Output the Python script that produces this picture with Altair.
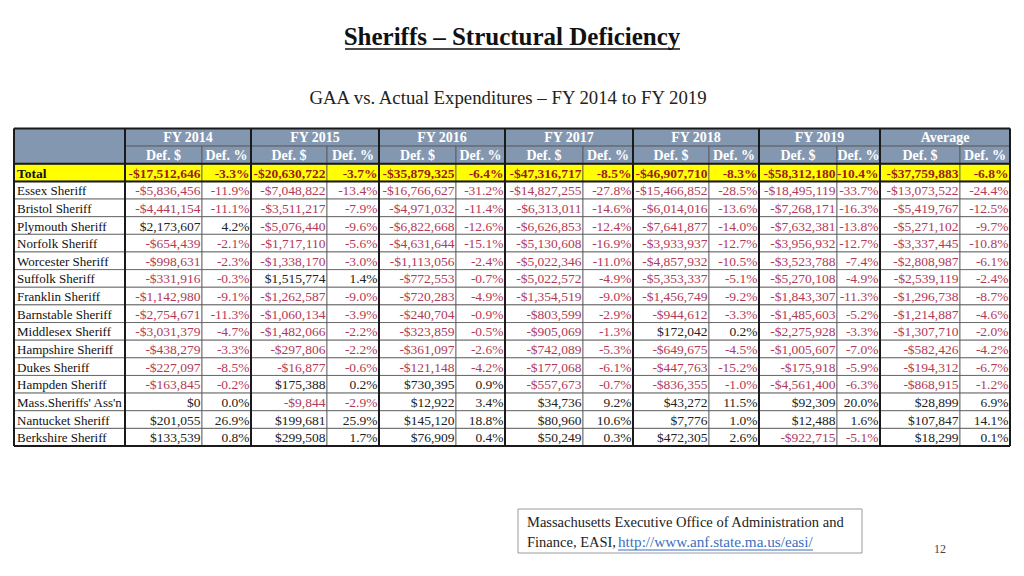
import altair as alt
import pandas as pd

# ---------------- data ----------------
names = ["Total", "Essex Sheriff", "Bristol Sheriff", "Plymouth Sheriff", "Norfolk Sheriff",
         "Worcester Sheriff", "Suffolk Sheriff", "Franklin Sheriff", "Barnstable Sheriff",
         "Middlesex Sheriff", "Hampshire Sheriff", "Dukes Sheriff", "Hampden Sheriff",
         "Mass.Sheriffs' Ass'n", "Nantucket Sheriff", "Berkshire Sheriff"]
groups = ["FY 2014", "FY 2015", "FY 2016", "FY 2017", "FY 2018", "FY 2019", "Average"]
sub_headers = ["Def. $", "Def. %"]

d2014 = [-17512646, -5836456, -4441154, 2173607, -654439, -998631, -331916, -1142980,
         -2754671, -3031379, -438279, -227097, -163845, 0, 201055, 133539]
p2014 = [-3.3, -11.9, -11.1, 4.2, -2.1, -2.3, -0.3, -9.1, -11.3, -4.7, -3.3, -8.5, -0.2, 0.0, 26.9, 0.8]
d2015 = [-20630722, -7048822, -3511217, -5076440, -1717110, -1338170, 1515774, -1262587,
         -1060134, -1482066, -297806, -16877, 175388, -9844, 199681, 299508]
p2015 = [-3.7, -13.4, -7.9, -9.6, -5.6, -3.0, 1.4, -9.0, -3.9, -2.2, -2.2, -0.6, 0.2, -2.9, 25.9, 1.7]
d2016 = [-35879325, -16766627, -4971032, -6822668, -4631644, -1113056, -772553, -720283,
         -240704, -323859, -361097, -121148, 730395, 12922, 145120, 76909]
p2016 = [-6.4, -31.2, -11.4, -12.6, -15.1, -2.4, -0.7, -4.9, -0.9, -0.5, -2.6, -4.2, 0.9, 3.4, 18.8, 0.4]
d2017 = [-47316717, -14827255, -6313011, -6626853, -5130608, -5022346, -5022572, -1354519,
         -803599, -905069, -742089, -177068, -557673, 34736, 80960, 50249]
p2017 = [-8.5, -27.8, -14.6, -12.4, -16.9, -11.0, -4.9, -9.0, -2.9, -1.3, -5.3, -6.1, -0.7, 9.2, 10.6, 0.3]
d2018 = [-46907710, -15466852, -6014016, -7641877, -3933937, -4857932, -5353337, -1456749,
         -944612, 172042, -649675, -447763, -836355, 43272, 7776, 472305]
p2018 = [-8.3, -28.5, -13.6, -14.0, -12.7, -10.5, -5.1, -9.2, -3.3, 0.2, -4.5, -15.2, -1.0, 11.5, 1.0, 2.6]
d2019 = [-58312180, -18495119, -7268171, -7632381, -3956932, -3523788, -5270108, -1843307,
         -1485603, -2275928, -1005607, -175918, -4561400, 92309, 12488, -922715]
p2019 = [-10.4, -33.7, -16.3, -13.8, -12.7, -7.4, -4.9, -11.3, -5.2, -3.3, -7.0, -5.9, -6.3, 20.0, 1.6, -5.1]
davg = [-37759883, -13073522, -5419767, -5271102, -3337445, -2808987, -2539119, -1296738,
        -1214887, -1307710, -582426, -194312, -868915, 28899, 107847, 18299]
pavg = [-6.8, -24.4, -12.5, -9.7, -10.8, -6.1, -2.4, -8.7, -4.6, -2.0, -4.2, -6.7, -1.2, 6.9, 14.1, 0.1]

dollars = [d2014, d2015, d2016, d2017, d2018, d2019, davg]
pcts = [p2014, p2015, p2016, p2017, p2018, p2019, pavg]

title_text = "Sheriffs \u2013 Structural Deficiency"
subtitle_text = "GAA vs. Actual Expenditures \u2013 FY 2014 to FY 2019"
source_line1 = "Massachusetts Executive Office of Administration and"
source_line2 = "Finance, EASI, "
source_url = "http://www.anf.state.ma.us/easi/"
page_no = "12"

# ---------------- layout ----------------
FONT = "Liberation Serif"
col_edges = [14, 125, 202, 251, 327, 379, 456, 505, 583, 633, 709, 759, 837, 880, 960, 1010]
TOP = 128.5
RH = 17.64
n_rows = 2 + len(names)
row_edges = [TOP + i * RH for i in range(n_rows + 1)]

HEAD_BG = "#8497B0"
YELLOW = "#FFFF00"
NEG = "#B23A56"
POS = "#222222"
TOT_RED = "#9B1B1B"
LAB_FS = 13
VAL_FS = 13.5
HEAD_FS = 14


def fmt_d(v):
    return ("-$" if v < 0 else "$") + f"{abs(v):,}"


def fmt_p(v):
    return f"{v:.1f}%"


cells = []
cells.append(dict(x=col_edges[0], x2=col_edges[1], y=row_edges[0], y2=row_edges[2], fill=HEAD_BG))
for g in range(len(groups)):
    a, b, c = col_edges[1 + 2 * g], col_edges[2 + 2 * g], col_edges[3 + 2 * g]
    cells.append(dict(x=a, x2=c, y=row_edges[0], y2=row_edges[1], fill=HEAD_BG))
    cells.append(dict(x=a, x2=b, y=row_edges[1], y2=row_edges[2], fill=HEAD_BG))
    cells.append(dict(x=b, x2=c, y=row_edges[1], y2=row_edges[2], fill=HEAD_BG))
for r in range(len(names)):
    fill = YELLOW if r == 0 else "#FFFFFF"
    for c in range(len(col_edges) - 1):
        cells.append(dict(x=col_edges[c], x2=col_edges[c + 1], y=row_edges[r + 2],
                          y2=row_edges[r + 3], fill=fill))
cells_df = pd.DataFrame(cells)

head_txt = []
for g, name in enumerate(groups):
    a, b, c = col_edges[1 + 2 * g], col_edges[2 + 2 * g], col_edges[3 + 2 * g]
    head_txt.append(dict(x=(a + c) / 2, y=(row_edges[0] + row_edges[1]) / 2, t=name))
    head_txt.append(dict(x=(a + b) / 2, y=(row_edges[1] + row_edges[2]) / 2, t=sub_headers[0]))
    head_txt.append(dict(x=(b + c) / 2, y=(row_edges[1] + row_edges[2]) / 2, t=sub_headers[1]))
head_df = pd.DataFrame(head_txt)

label_rows = []
val_rows = []
for r, nm in enumerate(names):
    yc = (row_edges[r + 2] + row_edges[r + 3]) / 2
    label_rows.append(dict(x=col_edges[0] + 3, y=yc, t=nm, bold=(r == 0)))
    for g in range(len(groups)):
        dv = dollars[g][r]
        pv = pcts[g][r]
        if r == 0:
            cd = cp = TOT_RED
        else:
            cd = NEG if dv < 0 else POS
            cp = NEG if pv < 0 else POS
        val_rows.append(dict(x=col_edges[2 + 2 * g] - 1.5, y=yc, t=fmt_d(dv), c=cd, bold=(r == 0)))
        val_rows.append(dict(x=col_edges[3 + 2 * g] - 1.5, y=yc, t=fmt_p(pv), c=cp, bold=(r == 0)))
lab_df = pd.DataFrame(label_rows)
val_df = pd.DataFrame(val_rows)

thick_v = [col_edges[0], col_edges[1]] + [col_edges[3 + 2 * g] for g in range(len(groups))]
rules = [dict(x=xv, x2=xv, y=row_edges[0], y2=row_edges[-1]) for xv in thick_v]
for yv in [row_edges[0], row_edges[2], row_edges[3], row_edges[-1]]:
    rules.append(dict(x=col_edges[0], x2=col_edges[-1], y=yv, y2=yv))
rules_df = pd.DataFrame(rules)

xs = alt.Scale(domain=[8, 1016], nice=False, zero=False)
ys = alt.Scale(domain=[8, 568], reverse=True, nice=False, zero=False)
X = lambda f="x": alt.X(f + ":Q", scale=xs, axis=None)
Y = lambda f="y": alt.Y(f + ":Q", scale=ys, axis=None)

rect_layer = alt.Chart(cells_df).mark_rect(stroke="#555555", strokeWidth=0.8).encode(
    x=X(), x2="x2:Q", y=Y(), y2="y2:Q", fill=alt.Fill("fill:N", scale=None))

rule_layer = alt.Chart(rules_df).mark_rule(color="#1a1a1a", strokeWidth=2).encode(
    x=X(), x2="x2:Q", y=Y(), y2="y2:Q")

head_layer = alt.Chart(head_df).mark_text(font=FONT, fontSize=HEAD_FS, fontWeight="bold",
                                          color="white", baseline="middle", dy=1).encode(
    x=X(), y=Y(), text="t:N")

lab_norm = alt.Chart(lab_df[~lab_df.bold]).mark_text(font=FONT, fontSize=LAB_FS, align="left",
                                                     baseline="middle", color="#111111", dy=1).encode(
    x=X(), y=Y(), text="t:N")
lab_bold = alt.Chart(lab_df[lab_df.bold]).mark_text(font=FONT, fontSize=LAB_FS + 0.5, align="left",
                                                    fontWeight="bold", baseline="middle",
                                                    color="#111111", dy=1).encode(
    x=X(), y=Y(), text="t:N")
val_norm = alt.Chart(val_df[~val_df.bold]).mark_text(font=FONT, fontSize=VAL_FS, align="right",
                                                     baseline="middle", dy=1).encode(
    x=X(), y=Y(), text="t:N", color=alt.Color("c:N", scale=None))
val_bold = alt.Chart(val_df[val_df.bold]).mark_text(font=FONT, fontSize=VAL_FS, align="right",
                                                    fontWeight="bold", baseline="middle", dy=1).encode(
    x=X(), y=Y(), text="t:N", color=alt.Color("c:N", scale=None))

# titles
title_df = pd.DataFrame([dict(x=512, y=45, t=title_text)])
title_layer = alt.Chart(title_df).mark_text(font=FONT, fontSize=25, fontWeight="bold", color="#111111",
                                            baseline="alphabetic").encode(x=X(), y=Y(), text="t:N")
uline_df = pd.DataFrame([dict(x=345, x2=680, y=49, y2=49)])
uline_layer = alt.Chart(uline_df).mark_rule(color="#111111", strokeWidth=1.5).encode(
    x=X(), x2="x2:Q", y=Y(), y2="y2:Q")
sub_df = pd.DataFrame([dict(x=508, y=104, t=subtitle_text)])
sub_layer = alt.Chart(sub_df).mark_text(font=FONT, fontSize=18.8, color="#222222",
                                        baseline="alphabetic").encode(x=X(), y=Y(), text="t:N")

# source box
box_df = pd.DataFrame([dict(x=518, x2=862, y=509, y2=553)])
box_layer = alt.Chart(box_df).mark_rect(fill="white", stroke="#9a9a9a", strokeWidth=1).encode(
    x=X(), x2="x2:Q", y=Y(), y2="y2:Q")
src_df = pd.DataFrame([dict(x=527, y=527, t=source_line1), dict(x=527, y=547, t=source_line2)])
src_layer = alt.Chart(src_df).mark_text(font=FONT, fontSize=14.5, color="#222222", align="left",
                                        baseline="alphabetic").encode(x=X(), y=Y(), text="t:N")
url_df = pd.DataFrame([dict(x=618, y=547, t=source_url)])
url_layer = alt.Chart(url_df).mark_text(font=FONT, fontSize=15.2, color="#3A6FC4", align="left",
                                        baseline="alphabetic").encode(x=X(), y=Y(), text="t:N")
url_line_df = pd.DataFrame([dict(x=618, x2=813, y=550, y2=550)])
url_line_layer = alt.Chart(url_line_df).mark_rule(color="#3A6FC4", strokeWidth=1).encode(
    x=X(), x2="x2:Q", y=Y(), y2="y2:Q")
page_df = pd.DataFrame([dict(x=940, y=553, t=page_no)])
page_layer = alt.Chart(page_df).mark_text(font=FONT, fontSize=12, color="#444444",
                                          baseline="alphabetic").encode(x=X(), y=Y(), text="t:N")

chart = alt.layer(
    rect_layer, rule_layer, head_layer, lab_norm, lab_bold, val_norm, val_bold,
    title_layer, uline_layer, sub_layer, box_layer, src_layer, url_layer, url_line_layer, page_layer
).properties(
    width=1008, height=560, padding=0, autosize=alt.AutoSizeParams(type="none"),
    background="white"
).configure_view(stroke=None)

chart.save("out.html", embed_options={"renderer": "svg", "actions": False})
